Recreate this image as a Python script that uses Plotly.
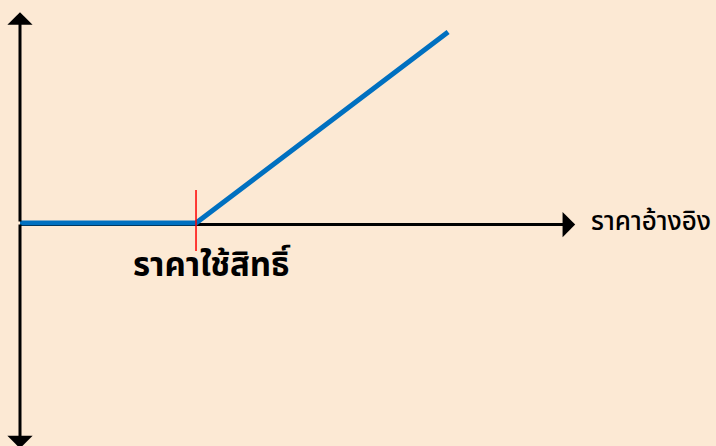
"""
Long call option payoff diagram
Payoff against the underlying price, kink at the strike
"""

import plotly.graph_objects as go

# Data (underlying price / payoff units)
strike = 50
underlying = [0, 50, 121.6]
payoff = [max(s - strike, 0) for s in underlying]

x_label = "ราคาอ้างอิง"
strike_label = "ราคาใช้สิทธิ์"

BG = "#FCE9D4"
BLUE = "#0070C0"
THAI_FONT = "Tahoma, Noto Sans Thai, sans-serif"

fig = go.Figure()

# payoff line
fig.add_trace(go.Scatter(
    x=underlying, y=payoff, mode="lines",
    line=dict(color=BLUE, width=5),
    hoverinfo="skip", showlegend=False,
))

# horizontal axis (under the payoff line)
fig.add_shape(type="line", x0=0, x1=152, y0=-0.6, y1=-0.6,
              xref="x", yref="y", line=dict(color="black", width=3),
              layer="below")
fig.add_annotation(x=157.7, y=-0.6, ax=148, ay=-0.6,
                   xref="x", yref="y", axref="x", ayref="y",
                   text="", showarrow=True, arrowhead=1,
                   arrowsize=1.4, arrowwidth=3, arrowcolor="black")

# vertical axis, arrows both ends
for tip in (79.0, -84.5):
    fig.add_annotation(x=0, y=tip, ax=0, ay=0,
                       xref="x", yref="y", axref="x", ayref="y",
                       text="", showarrow=True, arrowhead=1,
                       arrowsize=1.4, arrowwidth=3, arrowcolor="black")

# strike tick
fig.add_shape(type="line", x0=strike, x1=strike, y0=-10.5, y1=12.4,
              xref="x", yref="y", line=dict(color="#FF0000", width=1.5))

# labels
fig.add_annotation(x=161.5, y=0.5, xref="x", yref="y", text=x_label,
                   showarrow=False, xanchor="left", yanchor="middle",
                   font=dict(size=26, color="black", family=THAI_FONT,
                             weight=500))
fig.add_annotation(x=strike + 4.5, y=-16, xref="x", yref="y",
                   text=strike_label,
                   showarrow=False, xanchor="center", yanchor="middle",
                   font=dict(size=33, color="black", family=THAI_FONT,
                             weight="bold"))

fig.update_layout(
    width=716, height=446,
    margin=dict(l=0, r=0, t=0, b=0),
    paper_bgcolor=BG, plot_bgcolor=BG,
    xaxis=dict(range=[-5.68, 197.7], visible=False, fixedrange=True),
    yaxis=dict(range=[-83.6, 83.6], visible=False, fixedrange=True),
)

# page body has a default margin, drop it so the chart fills the window
fig.write_html("out.html",
               config={"displayModeBar": False},
               post_script="document.body.style.margin='0';")
